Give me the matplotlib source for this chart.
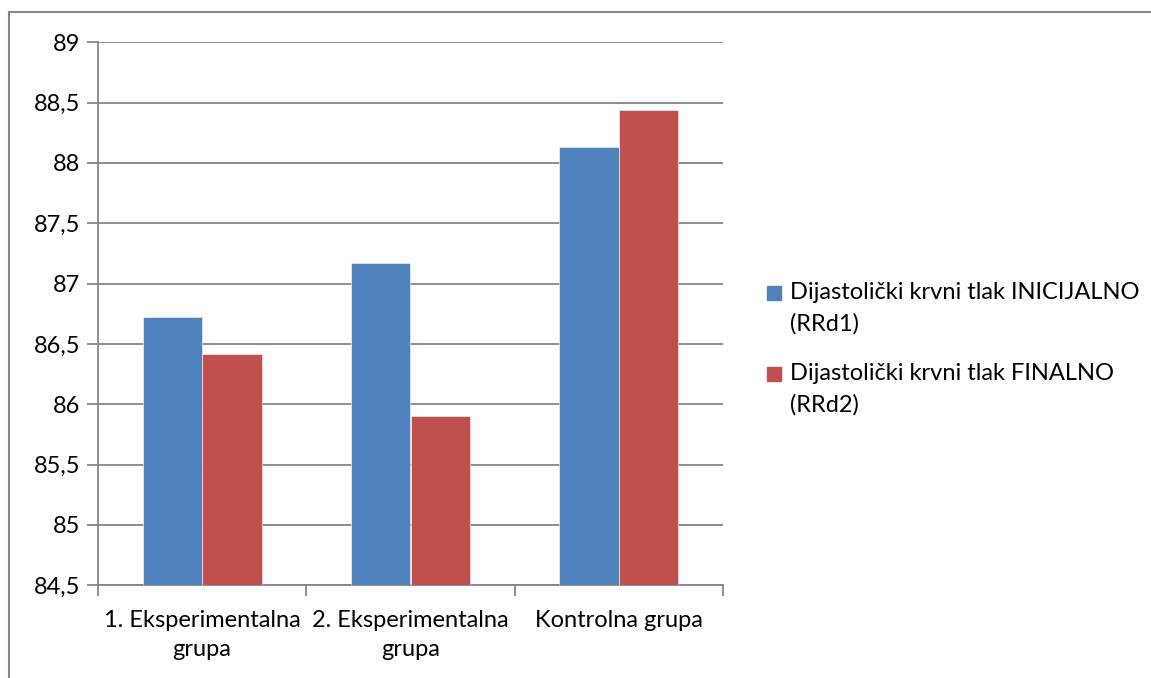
import matplotlib
matplotlib.use("Agg")
import matplotlib.pyplot as plt
from matplotlib.patches import Rectangle
from matplotlib.ticker import FixedLocator, FuncFormatter
import numpy as np

plt.rcParams['font.family'] = ['Lato', 'DejaVu Sans']

categories = ['1. Eksperimentalna\ngrupa', '2. Eksperimentalna\ngrupa', 'Kontrolna grupa']
initial = [86.72, 87.17, 88.13]
final = [86.42, 85.90, 88.44]
series_labels = [['Dijastolički krvni tlak INICIJALNO', '(RRd1)'],
                 ['Dijastolički krvni tlak FINALNO', '(RRd2)']]
colors = ['#4F81BD', '#C0504D']
grid_c = '#868686'
FS = 17

W, H = 1151, 678
fig = plt.figure(figsize=(W / 100, H / 100), dpi=100)


def fx(px):
    return px / W


def fy(py):
    return 1 - py / H


# outer chart frame (right and bottom edges fall outside the image)
fig.patches.append(Rectangle((fx(8.5), -0.1), 1.2, 1.1 - 12 / H,
                             transform=fig.transFigure, fill=False,
                             edgecolor=grid_c, linewidth=1.5))

ax = fig.add_axes([fx(98), fy(585.3), 625 / W, (585.3 - 42.3) / H])
x = np.arange(len(categories))
w = 0.286
ax.bar(x - w / 2, initial, w, color=colors[0], edgecolor='white', linewidth=0.4,
       zorder=3)
ax.bar(x + w / 2, final, w, color=colors[1], edgecolor='white', linewidth=0.4,
       zorder=3)

ax.set_ylim(84.5, 89)
ax.set_xlim(-0.5, 2.5)
ax.set_yticks(np.arange(84.5, 89.01, 0.5))
ax.yaxis.set_major_formatter(FuncFormatter(lambda v, p: f'{v:g}'.replace('.', ',')))
ax.grid(axis='y', color=grid_c, linewidth=1.3, zorder=0)

ax.set_xticks(x)
ax.set_xticklabels(categories, fontsize=FS, linespacing=1.45)
ax.xaxis.set_minor_locator(FixedLocator([-0.5, 0.5, 1.5, 2.5]))
ax.tick_params(axis='x', which='major', length=0, pad=18)
ax.tick_params(axis='x', which='minor', length=8, color=grid_c, width=1.3)
ax.tick_params(axis='y', length=8, color=grid_c, width=1.3, labelsize=FS, pad=5)

for s in ['top', 'right']:
    ax.spines[s].set_visible(False)
for s in ['left', 'bottom']:
    ax.spines[s].set_color(grid_c)
    ax.spines[s].set_linewidth(1.3)

# legend drawn by hand: the swatch sits beside the first line of each label
entry_top = [286, 367]
for lines, c, top in zip(series_labels, colors, entry_top):
    fig.patches.append(Rectangle((fx(767), fy(top + 14)), 14 / W, 14 / H,
                                 transform=fig.transFigure, color=c))
    for k, line in enumerate(lines):
        fig.text(fx(790), fy(top + 13 + 32 * k), line, fontsize=FS,
                 va='baseline', ha='left')

fig.savefig('out.png', dpi=100)
